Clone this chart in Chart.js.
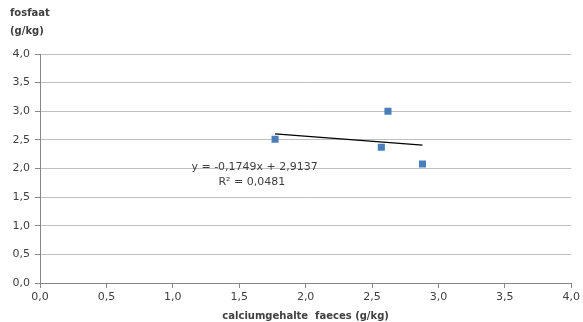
<!DOCTYPE html>
<html>
<head>
<meta charset="utf-8">
<script src="https://cdn.jsdelivr.net/npm/chart.js@4"></script>
<style>
  html, body { margin: 0; padding: 0; background: #fff; }
  #wrap { width: 583px; height: 322px; position: relative; }
</style>
</head>
<body>
<div id="wrap"><canvas id="fosfaatChart" width="583" height="322"></canvas></div>
<script>
// calcium in faeces (g/kg) vs fosfaat (g/kg)
const calcium = [1.77, 2.62, 2.57, 2.88];
const fosfaat = [2.51, 3.00, 2.37, 2.08];

// lineaire trend zoals in de vergelijking
const slope = -0.1749;
const intercept = 2.9137;
const rSquared = 0.0481;

const axisTicks = [0, 0.5, 1, 1.5, 2, 2.5, 3, 3.5, 4];

const comma = (v, d) => v.toFixed(d).replace('.', ',');

const xMin = Math.min(...calcium);
const xMax = Math.max(...calcium);
const trend = [
  { x: xMin, y: intercept + slope * xMin },
  { x: xMax, y: intercept + slope * xMax }
];

const FONT = '"DejaVu Sans", Verdana, sans-serif';
const TEXT = '#404040';

// y-as titel linksboven + vergelijking van de trendlijn
const extraText = {
  id: 'extraText',
  afterDraw(chart) {
    const ctx = chart.ctx;
    const x = chart.scales.x, y = chart.scales.y;
    ctx.save();
    ctx.fillStyle = TEXT;
    ctx.textBaseline = 'middle';
    ctx.textAlign = 'left';
    ctx.font = 'bold 10px ' + FONT;
    ctx.fillText('fosfaat', 10, 13);
    ctx.fillText('(g/kg)', 10, 31);

    ctx.font = '11px ' + FONT;
    const ex = x.getPixelForValue(1.14);
    const ey = y.getPixelForValue(2.03);
    ctx.fillText('y = ' + comma(slope, 4) + 'x + ' + comma(intercept, 4), ex, ey);
    ctx.fillText('R² = ' + comma(rSquared, 4), ex + 27, ey + 15);
    ctx.restore();
  }
};

new Chart(document.getElementById('fosfaatChart').getContext('2d'), {
  type: 'scatter',
  data: {
    datasets: [
      {
        label: 'fosfaat',
        data: calcium.map((c, i) => ({ x: c, y: fosfaat[i] })),
        pointStyle: 'rect',
        pointRadius: 5,
        pointHoverRadius: 5,
        backgroundColor: '#4a7ebb',
        borderColor: '#4a7ebb',
        borderWidth: 0
      },
      {
        label: 'trend',
        type: 'line',
        data: trend,
        borderColor: '#000',
        borderWidth: 1.2,
        pointRadius: 0,
        fill: false
      }
    ]
  },
  options: {
    responsive: false,
    animation: false,
    devicePixelRatio: 1,
    layout: { padding: { top: 54, right: 10, left: 0, bottom: 0 } },
    plugins: { legend: { display: false }, tooltip: { enabled: false } },
    scales: {
      x: {
        type: 'linear',
        min: 0, max: 4,
        afterBuildTicks: s => { s.ticks = axisTicks.map(v => ({ value: v })); },
        afterFit: s => { s.height = 39; },
        grid: { drawOnChartArea: false, drawTicks: true, tickLength: 5, color: '#868686' },
        border: { color: '#868686' },
        ticks: {
          autoSkip: false,
          padding: 3,
          color: TEXT,
          font: { family: FONT, size: 11 },
          maxRotation: 0,
          callback: v => comma(v, 1)
        },
        title: {
          display: true,
          text: 'calciumgehalte  faeces (g/kg)',
          color: TEXT,
          font: { family: FONT, size: 10, weight: 'bold' },
          padding: { top: 4, bottom: 0 }
        }
      },
      y: {
        type: 'linear',
        min: 0, max: 4,
        afterBuildTicks: s => { s.ticks = axisTicks.map(v => ({ value: v })); },
        afterFit: s => { s.width = 40; },
        grid: { color: '#bfbfbf', tickLength: 5, tickColor: '#868686' },
        border: { color: '#868686' },
        ticks: {
          autoSkip: false,
          padding: 5,
          color: TEXT,
          font: { family: FONT, size: 11 },
          callback: v => comma(v, 1)
        }
      }
    }
  },
  plugins: [extraText]
});
</script>
</body>
</html>
